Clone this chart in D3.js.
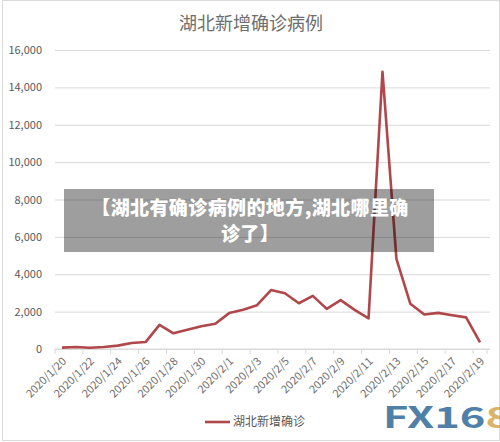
<html>
<head>
<meta charset="utf-8">
<style>
  body { margin: 0; background: #fff; }
  #chart { position: relative; width: 500px; height: 442px; }
  text { font-family: "Noto Sans CJK SC", "Noto Sans", sans-serif; }
</style>
</head>
<body>
<script src="https://d3js.org/d3.v7.min.js"></script>
<div id="chart"></div>
<script>
// data (Hubei daily new cases)
var dates = ["2020/1/20","2020/1/21","2020/1/22","2020/1/23","2020/1/24","2020/1/25","2020/1/26","2020/1/27",
  "2020/1/28","2020/1/29","2020/1/30","2020/1/31","2020/2/1","2020/2/2","2020/2/3","2020/2/4","2020/2/5",
  "2020/2/6","2020/2/7","2020/2/8","2020/2/9","2020/2/10","2020/2/11","2020/2/12","2020/2/13","2020/2/14",
  "2020/2/15","2020/2/16","2020/2/17","2020/2/18","2020/2/19"];
var newCases = [72, 105, 69, 105, 180, 323, 371, 1291, 840, 1032, 1220, 1347, 1921, 2103, 2345, 3156, 2987,
  2447, 2841, 2147, 2618, 2097, 1638, 14840, 4823, 2420, 1843, 1933, 1807, 1693, 349];
var yTicks = [0, 2000, 4000, 6000, 8000, 10000, 12000, 14000, 16000];
var seriesName = "湖北新增确诊";
var chartTitle = "湖北新增确诊病例";
var bannerLines = ["【湖北有确诊病例的地方,湖北哪里确", "诊了】"];

var W = 500, H = 442;
var plotL = 55, plotR = 487, plotT = 50, plotB = 349;

var svg = d3.select("#chart").append("svg")
    .attr("width", W)
    .attr("height", H);

// outer frame
svg.append("rect")
    .attr("x", 2.5).attr("y", 0.5)
    .attr("width", W - 3).attr("height", H - 2)
    .attr("fill", "#fff")
    .attr("stroke", "#d9d9d9");

var x = d3.scaleBand()
    .domain(dates)
    .range([plotL, plotR])
    .padding(0);

var y = d3.scaleLinear()
    .domain([0, 16000])
    .range([plotB, plotT]);

// title
svg.append("text")
    .attr("x", 251).attr("y", 30)
    .attr("text-anchor", "middle")
    .attr("font-size", 18)
    .attr("fill", "#6e6e6e")
    .text(chartTitle);

// y axis + gridlines
var yAxis = svg.append("g")
    .attr("transform", "translate(" + plotL + ",0)")
    .call(d3.axisLeft(y).tickValues(yTicks).tickSize(-(490 - plotL)).tickPadding(13).tickFormat(d3.format(",")));
yAxis.select(".domain").remove();
yAxis.selectAll(".tick line").attr("stroke", "#d9d9d9");
yAxis.selectAll(".tick text").attr("fill", "#595959").attr("font-size", 11);

// x axis
var labelDates = dates.filter(function (d, i) { return i % 2 == 0 });
var xAxis = svg.append("g")
    .attr("transform", "translate(0," + plotB + ")")
    .call(d3.axisBottom(x).tickValues(labelDates).tickSize(0).tickPadding(0));
xAxis.select(".domain").attr("d", "M" + plotL + ",0H490").attr("stroke", "#d9d9d9");
xAxis.selectAll(".tick text")
    .attr("fill", "#6e6e6e")
    .attr("font-size", 11)
    .attr("text-anchor", "end")
    .attr("dx", 0).attr("dy", 0)
    .attr("transform", "translate(5,13) rotate(-45)");

// tick marks between categories
svg.selectAll("line.xtick")
    .data(labelDates.concat(["end"]))
    .enter()
    .append("line")
    .attr("class", "xtick")
    .attr("x1", function (d) { return d == "end" ? plotR : x(d) })
    .attr("x2", function (d) { return d == "end" ? plotR : x(d) })
    .attr("y1", plotB).attr("y2", plotB + 5)
    .attr("stroke", "#d9d9d9");

// the line
svg.append("path")
    .datum(newCases)
    .attr("fill", "none")
    .attr("stroke", "#b0474a")
    .attr("stroke-width", 2.6)
    .attr("stroke-linejoin", "round")
    .attr("d", d3.line()
        .x(function (d, i) { return x(dates[i]) + x.bandwidth() / 2 })
        .y(function (d) { return y(d) })
    );

// legend
svg.append("line")
    .attr("x1", 205).attr("x2", 230)
    .attr("y1", 422).attr("y2", 422)
    .attr("stroke", "#b0474a")
    .attr("stroke-width", 2.6);
svg.append("text")
    .attr("x", 233).attr("y", 426)
    .attr("font-size", 12)
    .attr("fill", "#595959")
    .text(seriesName);

// overlay banner
svg.append("rect")
    .attr("x", 64).attr("y", 189)
    .attr("width", 370).attr("height", 63)
    .attr("fill", "#000")
    .attr("fill-opacity", 0.38);
svg.selectAll("text.banner")
    .data(bannerLines)
    .enter()
    .append("text")
    .attr("class", "banner")
    .attr("x", 250)
    .attr("y", function (d, i) { return 215 + i * 26 })
    .attr("text-anchor", "middle")
    .attr("font-size", 19)
    .attr("font-weight", "900")
    .attr("letter-spacing", 0.4)
    .attr("fill", "#fff")
    .text(function (d) { return d });

// watermark (runs off the right edge like the original)
var wm = svg.append("text")
    .attr("x", 383).attr("y", 428)
    .attr("font-family", "'DejaVu Sans', sans-serif")
    .attr("font-size", 29)
    .attr("font-weight", "bold")
    .attr("textLength", 128)
    .attr("lengthAdjust", "spacingAndGlyphs");
wm.append("tspan").attr("fill", "#4f81a8").text("FX16");
wm.append("tspan").attr("fill", "#d9b36a").text("8");
</script>
</body>
</html>
